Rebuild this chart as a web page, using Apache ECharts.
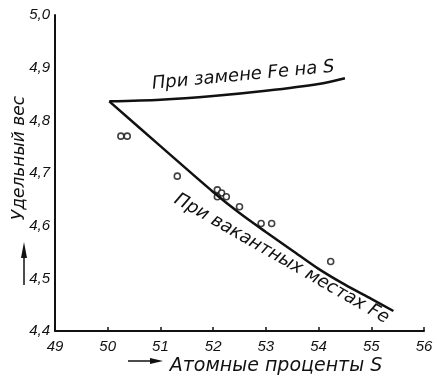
<!DOCTYPE html>
<html>
<head>
<meta charset="utf-8">
<title>Удельный вес</title>
<script src="https://cdn.jsdelivr.net/npm/echarts@6/dist/echarts.min.js"></script>
<style>
html,body{margin:0;padding:0;background:#fff;}
#main{width:437px;height:376px;}
</style>
</head>
<body>
<div id="main"></div>
<script>
// при замене Fe на S
var zamenaX = [50.03, 51, 52, 53, 54, 54.5];
var zamenaY = [4.836, 4.839, 4.846, 4.856, 4.869, 4.880];
// при вакантных местах Fe
var vakX = [50.03, 51, 52, 52.5, 53, 53.5, 54, 54.5, 55, 55.42];
var vakY = [4.836, 4.751, 4.664, 4.624, 4.588, 4.553, 4.518, 4.488, 4.461, 4.438];
// опытные точки
var tochkiX = [50.25, 50.37, 51.32, 52.08, 52.16, 52.08, 52.25, 52.50, 52.91, 53.11, 54.23];
var tochkiY = [4.770, 4.770, 4.694, 4.668, 4.662, 4.655, 4.655, 4.636, 4.604, 4.604, 4.532];

var shrift = 'DejaVu Sans';
var chart = echarts.init(document.getElementById('main'));

function pary(xs, ys) {
    var out = [];
    for (var i = 0; i < xs.length; i++) out.push([xs[i], ys[i]]);
    return out;
}

var option = {
    animation: false,
    backgroundColor: '#fff',
    grid: { left: 55, top: 15, right: 13, bottom: 45 },
    xAxis: {
        type: 'value',
        min: 49, max: 56, interval: 1,
        axisLine: { lineStyle: { color: '#111', width: 2 } },
        axisTick: { inside: true, length: 4, lineStyle: { color: '#111', width: 1.5 } },
        axisLabel: { color: '#111', fontFamily: 'Liberation Sans', fontStyle: 'italic', fontSize: 15, margin: 8 },
        splitLine: { show: false }
    },
    yAxis: {
        type: 'value',
        min: 4.4, max: 5.0, interval: 0.1,
        axisLine: { show: true, lineStyle: { color: '#111', width: 2 } },
        axisTick: { show: false },
        axisLabel: {
            color: '#111', fontFamily: 'Liberation Sans', fontStyle: 'italic', fontSize: 15, margin: 5,
            formatter: function (v) { return v.toFixed(1).replace('.', ','); }
        },
        splitLine: { show: false }
    },
    series: [
        {
            name: 'При замене Fe на S',
            type: 'line', smooth: 0.3, symbol: 'none',
            lineStyle: { color: '#111', width: 2.5 },
            data: pary(zamenaX, zamenaY)
        },
        {
            name: 'При вакантных местах Fe',
            type: 'line', smooth: 0.3, symbol: 'none',
            lineStyle: { color: '#111', width: 2.5 },
            data: pary(vakX, vakY)
        },
        {
            type: 'scatter', symbol: 'circle', symbolSize: 6,
            itemStyle: { color: '#fff', borderColor: '#111', borderWidth: 1.6 },
            data: pary(tochkiX, tochkiY)
        }
    ]
};
chart.setOption(option);

// подписи кривых и осей
var p1 = chart.convertToPixel({ gridIndex: 0 }, [52.57, 4.885]);
var p2 = chart.convertToPixel({ gridIndex: 0 }, [53.3, 4.537]);
var tekst = { fill: '#111', fontFamily: shrift, fontStyle: 'italic', fontSize: 18, align: 'center', verticalAlign: 'middle' };

chart.setOption({
    graphic: [
        { type: 'text', x: p1[0], y: p1[1], rotation: 0.094,
          style: Object.assign({}, tekst, { text: 'При замене Fe на S' }) },
        { type: 'text', x: p2[0], y: p2[1], rotation: -0.52,
          style: Object.assign({}, tekst, { text: 'При вакантных местах Fe' }) },
        // ось X
        { type: 'text', x: 276, y: 366,
          style: Object.assign({}, tekst, { text: 'Атомные проценты S', fontSize: 19 }) },
        { type: 'line', shape: { x1: 128, y1: 361, x2: 152, y2: 361 }, style: { stroke: '#111', lineWidth: 1.5 } },
        { type: 'polygon', shape: { points: [[163, 361], [150, 358], [150, 364]] }, style: { fill: '#111' } },
        // ось Y
        { type: 'text', x: 20, y: 158, rotation: Math.PI / 2,
          style: Object.assign({}, tekst, { text: 'Удельный вес', fontSize: 17 }) },
        { type: 'line', shape: { x1: 24, y1: 285, x2: 24, y2: 255 }, style: { stroke: '#111', lineWidth: 1.5 } },
        { type: 'polygon', shape: { points: [[24, 242], [21, 258], [27, 258]] }, style: { fill: '#111' } }
    ]
});
</script>
</body>
</html>
